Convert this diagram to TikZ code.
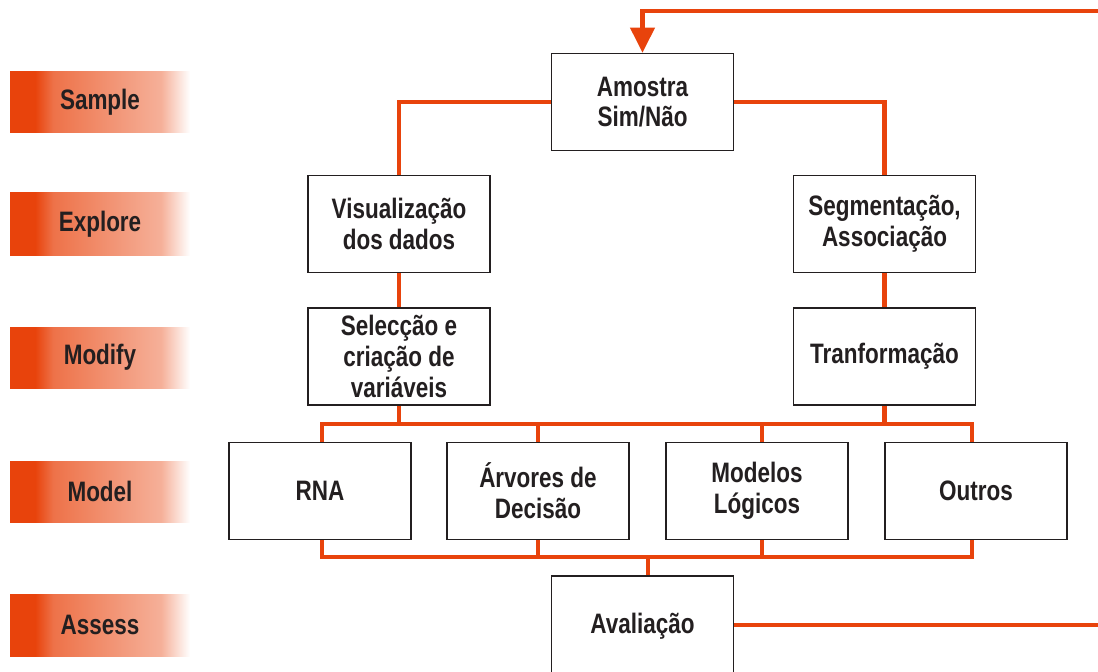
\documentclass[tikz,border=0pt]{standalone}
\usepackage{fontspec}
\setmainfont{Liberation Sans}[FakeStretch=0.8]
\usetikzlibrary{arrows.meta}
\definecolor{org}{HTML}{E8430C}
\definecolor{ink}{HTML}{231F20}
\pgfdeclarehorizontalshading{labshade}{100bp}{color(0bp)=(org); color(32bp)=(org); color(37bp)=(org!75); color(67bp)=(org!42); color(75bp)=(white); color(100bp)=(white)}
\begin{document}
\begin{tikzpicture}[x=0.02cm,y=-0.02cm,
  box/.style={draw=ink, line width=0.9pt, fill=white, minimum width=3.64cm, minimum height=1.94cm, align=center, text=ink, inner sep=1pt, font=\bfseries\fontsize{16}{17.5}\selectfont},
  lab/.style={text=ink, font=\bfseries\fontsize{16}{17.5}\selectfont},
  conn/.style={draw=org, line width=2.3pt},
  labbox/.style={shading=labshade, draw=none}]
\useasboundingbox (0,0) rectangle (1098,672);
% left stage labels
\shade[labbox] (10,72) rectangle (190,133);
\node[lab] (sample) at (100,102) {Sample};
\shade[labbox] (10,193) rectangle (190,255);
\node[lab] (explore) at (100,224) {Explore};
\shade[labbox] (10,327) rectangle (190,388);
\node[lab] (modify) at (100,357) {Modify};
\shade[labbox] (10,461) rectangle (190,522);
\node[lab] (model) at (100,491) {Model};
\shade[labbox] (10,594) rectangle (190,656);
\node[lab] (assess) at (100,625) {Assess};
% boxes
\node[box] (amo) at (642.5,102) {Amostra\\Sim/Não};
\node[box] (vis) at (399,224) {Visualização\\dos dados};
\node[box] (seg) at (884.5,224) {Segmentação,\\Associação};
\node[box] (sel) at (399,356.5) {Selecção e\\criação de\\variáveis};
\node[box] (tra) at (884.5,356.5) {Tranformação};
\node[box] (rna) at (320,491) {RNA};
\node[box] (arv) at (538,491) {Árvores de\\Decisão};
\node[box] (mod) at (757,491) {Modelos\\Lógicos};
\node[box] (out) at (976,491) {Outros};
\node[box, minimum height=2.02cm] (ava) at (642.5,626.5) {Avaliação};
% coordinates
\coordinate (bl) at (322,424);
\coordinate (br) at (972,424);
\coordinate (bm) at (762,424);
\coordinate (cl) at (322,557);
\coordinate (cr) at (972,557);
\coordinate (cm) at (762,557);
\coordinate (ca) at (648,557);
\coordinate (rt) at (1100,11);
\coordinate (re) at (1100,625);
% connectors
\draw[conn] (amo.west) -| (vis.north);
\draw[conn] (amo.east) -| (seg.north);
\draw[conn] (vis.south) -- (sel.north);
\draw[conn] (seg.south) -- (tra.north);
\draw[conn] (sel.south) -- (sel.south |- bl);
\draw[conn] (tra.south) -- (tra.south |- br);
\draw[conn] (bl |- rna.north) -- (bl) -- (br) -- (br |- out.north);
\draw[conn] (arv.north) -- (arv.north |- bl);
\draw[conn] (bm) -- (bm |- mod.north);
\draw[conn] (cl |- rna.south) -- (cl) -- (cr) -- (cr |- out.south);
\draw[conn] (arv.south) -- (arv.south |- cl);
\draw[conn] (cm |- mod.south) -- (cm);
\draw[conn] (ca |- ava.north) -- (ca);
\draw[conn] (ava.east |- re) -- (re);
\draw[conn, -{Triangle[width=0.48cm,length=0.5cm]}] (rt) -- (642.5,11) -- (amo.north);
\end{tikzpicture}
\end{document}
